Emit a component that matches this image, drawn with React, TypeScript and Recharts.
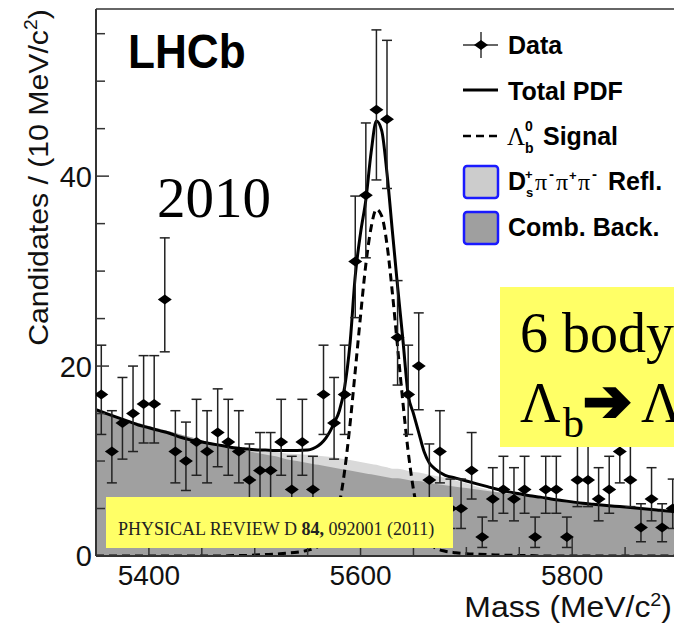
import React from 'react';
import { ComposedChart, XAxis, YAxis, Area, Line, Scatter, ErrorBar, ReferenceLine } from 'recharts';

// ---- measured data (10 MeV bins) ----
const binCenters = [
  5355, 5365, 5375, 5385, 5395, 5405, 5415, 5425, 5435, 5445,
  5455, 5465, 5475, 5485, 5495, 5505, 5515, 5525, 5535, 5545,
  5555, 5565, 5575, 5585, 5595, 5605, 5615, 5625, 5635, 5645,
  5655, 5665, 5675, 5685, 5695, 5705, 5715, 5725, 5735, 5745,
  5755, 5765, 5775, 5785, 5795, 5805, 5815, 5825, 5835, 5845,
  5855, 5865, 5875, 5885, 5895,
];
const counts = [
  17, 11, 14, 15, 16, 16, 27, 11, 10, 12,
  11, 13, 12, 11, 8, 9, 9, 12, 7, 12,
  7, 17, 14, 17, 31, 38, 47, 46, 23, 17,
  20, 8, 11, 5, 5, 9, 2, 6, 7, 6,
  7, 2, 7, 7, 2, 8, 8, 6, 7, 11,
  8, 3, 6, 3, 5,
];
const errLow = [
  4.2, 3.3, 3.8, 4.0, 4.1, 4.1, 5.5, 3.3, 3.1, 3.5,
  3.3, 3.6, 3.5, 3.3, 2.8, 3.0, 3.0, 3.5, 2.5, 3.5,
  2.5, 4.2, 3.8, 4.2, 5.9, 6.6, 7.4, 7.3, 5.0, 4.2,
  4.6, 2.8, 3.3, 2.1, 2.1, 3.0, 1.1, 2.3, 2.5, 2.3,
  2.5, 1.1, 2.5, 2.5, 1.1, 2.8, 2.8, 2.3, 2.5, 3.3,
  2.8, 1.5, 2.3, 1.5, 2.1,
];
const errHigh = [
  5.2, 4.3, 4.8, 5.0, 5.1, 5.1, 6.5, 4.3, 4.1, 4.5,
  4.3, 4.6, 4.5, 4.3, 3.8, 4.0, 4.0, 4.5, 3.5, 4.5,
  3.5, 5.2, 4.8, 5.2, 6.9, 7.6, 8.4, 8.3, 6.0, 5.2,
  5.6, 3.8, 4.3, 3.1, 3.1, 4.0, 2.1, 3.3, 3.5, 3.3,
  3.5, 2.1, 3.5, 3.5, 2.1, 3.8, 3.8, 3.3, 3.5, 4.3,
  3.8, 2.5, 3.3, 2.5, 3.1,
];

// ---- fit curves ----
const curveMass = [
  5350, 5360, 5370, 5380, 5390, 5400, 5410, 5420, 5430, 5440, 5450, 5460, 5470, 5480, 5490, 5500, 5510, 5520, 5530, 5540, 5550,
  5555, 5560, 5565, 5570, 5575, 5580, 5585, 5590, 5595, 5600, 5605, 5610, 5615, 5620, 5625, 5630, 5635, 5640, 5645, 5650, 5655, 5660, 5665, 5670,
  5680, 5690, 5700, 5710, 5720, 5730, 5740, 5750, 5760, 5770, 5780, 5790, 5800, 5810, 5820, 5830, 5840, 5850, 5860, 5870, 5880, 5890, 5900,
];
const combBkg = [
  15.3, 15.0, 14.6, 14.3, 14.0, 13.7, 13.4, 13.1, 12.8, 12.5, 12.2, 11.9, 11.7, 11.4, 11.2, 10.9, 10.7, 10.5, 10.2, 10.0, 9.8,
  9.7, 9.6, 9.5, 9.4, 9.3, 9.2, 9.1, 9.0, 8.9, 8.8, 8.7, 8.6, 8.5, 8.4, 8.3, 8.2, 8.2, 8.1, 8.0, 7.9, 7.9, 7.8, 7.7, 7.6,
  7.45, 7.3, 7.15, 7.0, 6.85, 6.7, 6.55, 6.4, 6.25, 6.1, 6.0, 5.85, 5.7, 5.6, 5.5, 5.35, 5.25, 5.15, 5.05, 4.95, 4.85, 4.75, 4.7,
];
const reflBkg = [
  0, 0, 0, 0, 0, 0, 0, 0, 0, 0, 0, 0, 0, 0.05, 0.1, 0.2, 0.3, 0.45, 0.6, 0.75, 0.85,
  0.9, 0.95, 1.0, 1.05, 1.1, 1.1, 1.1, 1.1, 1.1, 1.1, 1.1, 1.1, 1.1, 1.05, 1.05, 1.0, 1.0, 1.0, 0.95, 0.95, 0.9, 0.9, 0.85, 0.85,
  0.8, 0.65, 0.5, 0.3, 0.15, 0.05, 0, 0, 0, 0, 0, 0, 0, 0, 0, 0, 0, 0, 0, 0, 0, 0, 0,
];
const signalPdf = [
  0, 0, 0, 0, 0, 0, 0, 0, 0, 0, 0, 0, 0, 0.05, 0.05, 0.1, 0.15, 0.2, 0.3, 0.4, 0.6,
  0.75, 1.0, 1.4, 2.0, 3.3, 5.5, 9.0, 13.8, 19.5, 25.3, 30.7, 34.6, 36.5, 35.8, 32.8, 27.8, 22.0, 16.2, 11.0, 7.0, 4.2, 2.4, 1.4, 0.9,
  0.5, 0.35, 0.25, 0.2, 0.15, 0.1, 0.08, 0.05, 0.05, 0, 0, 0, 0, 0, 0, 0, 0, 0, 0, 0, 0, 0, 0,
];
const totalPdf = [
  15.4, 15.0, 14.6, 14.2, 13.8, 13.5, 13.2, 12.9, 12.5, 12.2, 12.0, 11.8, 11.6, 11.4, 11.3, 11.2, 11.15, 11.1, 11.1, 11.1, 11.15,
  11.3, 11.6, 12.1, 12.9, 14.0, 15.3, 17.8, 22.3, 29.5, 34.0, 37.5, 42.5, 45.8, 44.8, 40.3, 34.3, 28.4, 22.8, 17.0, 15.0, 13.0, 11.0, 9.8, 9.2,
  8.5, 8.2, 7.9, 7.6, 7.3, 7.0, 6.75, 6.55, 6.35, 6.2, 6.0, 5.85, 5.7, 5.55, 5.45, 5.35, 5.25, 5.15, 5.05, 4.95, 4.85, 4.75, 4.7,
];

// ---- axes ----
const xTicks = [5400, 5450, 5500, 5550, 5600, 5650, 5700, 5750, 5800, 5850];
const xLabels = [5400, 5600, 5800];
const yTicks = [0, 5, 10, 15, 20, 25, 30, 35, 40, 45, 50, 55];
const yLabels = [0, 20, 40];
const xDomain = [5350, 5900];
const yDomain = [0, 57.6];

const SANS = 'Liberation Sans, Arial, Helvetica, sans-serif';
const SERIF = 'Liberation Serif, Times New Roman, serif';

const curveRows = curveMass.map((m, i) => ({
  m,
  comb: combBkg[i],
  bkg: combBkg[i] + reflBkg[i],
  sig: signalPdf[i],
  total: totalPdf[i],
}));
const points = binCenters.map((m, i) => ({ m, n: counts[i], err: [errLow[i], errHigh[i]] }));

const XTick = (props: any) => {
  const { x, y, payload } = props;
  const major = xLabels.includes(payload.value);
  const len = major ? 18 : 9;
  return (
    <g>
      <line x1={x} x2={x} y1={y} y2={y - len} stroke="#333" strokeWidth={1.5} />
      {major && (
        <text x={x} y={y + 28.5} textAnchor="middle" fontSize={28} fontFamily={SANS} fill="#111">
          {payload.value}
        </text>
      )}
    </g>
  );
};

const YTick = (props: any) => {
  const { x, y, payload } = props;
  const major = yLabels.includes(payload.value);
  const len = major ? 13 : 9;
  return (
    <g>
      <line x1={x} x2={x + len} y1={y} y2={y} stroke="#333" strokeWidth={1.5} />
      {major && (
        <text x={x - 4} y={y} dy="0.36em" textAnchor="end" fontSize={29} fontFamily={SANS} fill="#111">
          {payload.value}
        </text>
      )}
    </g>
  );
};

const Diamond = (props: any) => {
  const { cx, cy } = props;
  if (cx == null || cy == null) return null;
  return <polygon points={`${cx - 7},${cy} ${cx},${cy - 5} ${cx + 7},${cy} ${cx},${cy + 5}`} fill="#000" />;
};

const Overlay = () => (
  <svg width={674} height={627} style={{ position: 'absolute', left: 0, top: 0, pointerEvents: 'none' }}>
    {/* LHCb label */}
    <text transform="translate(128,68) scale(0.92,1)" fontSize={48} fontWeight="bold" fontFamily={SANS} fill="#000">
      LHCb
    </text>
    <text x={157} y={217} fontSize={57} fontFamily={SERIF} fill="#000">2010</text>

    {/* legend */}
    <line x1={463} x2={498} y1={45} y2={45} stroke="#333" strokeWidth={1.5} />
    <line x1={481} x2={481} y1={32} y2={58} stroke="#333" strokeWidth={1.5} />
    <polygon points="474,45 481,40 488,45 481,50" fill="#000" />
    <text x={508} y={54} fontSize={25} fontWeight="bold" fontFamily={SANS}>Data</text>

    <line x1={463} x2={498} y1={90} y2={90} stroke="#000" strokeWidth={3} />
    <text x={508} y={100} fontSize={25} fontWeight="bold" fontFamily={SANS}>Total PDF</text>

    <line x1={463} x2={498} y1={136} y2={136} stroke="#000" strokeWidth={2.5} strokeDasharray="8 5" />
    <text x={507} y={145} fontSize={25} fontFamily={SERIF}>Λ</text>
    <text x={525} y={131} fontSize={14} fontWeight="bold" fontFamily={SANS}>0</text>
    <text x={525} y={153} fontSize={14} fontWeight="bold" fontFamily={SANS}>b</text>
    <text x={543} y={145} fontSize={25} fontWeight="bold" fontFamily={SANS}>Signal</text>

    <rect x={464} y={166} width={34} height={32} rx={3} fill="#cccccc" stroke="#1a1aff" strokeWidth={2.5} />
    <text x={508} y={190} fontSize={25} fontWeight="bold" fontFamily={SANS}>D</text>
    <text x={525} y={179} fontSize={13} fontWeight="bold" fontFamily={SANS}>+</text>
    <text x={526} y={197} fontSize={13} fontWeight="bold" fontFamily={SANS}>s</text>
    <text x={535} y={190} fontSize={24} fontFamily={SERIF}>π</text>
    <text x={549} y={179} fontSize={15} fontWeight="bold" fontFamily={SANS}>-</text>
    <text x={556} y={190} fontSize={24} fontFamily={SERIF}>π</text>
    <text x={569} y={180} fontSize={13} fontWeight="bold" fontFamily={SANS}>+</text>
    <text x={578} y={190} fontSize={24} fontFamily={SERIF}>π</text>
    <text x={592} y={179} fontSize={15} fontWeight="bold" fontFamily={SANS}>-</text>
    <text x={608} y={190} fontSize={25} fontWeight="bold" fontFamily={SANS}>Refl.</text>

    <rect x={464} y={212} width={34} height={32} rx={3} fill="#9f9f9f" stroke="#1a1aff" strokeWidth={2.5} />
    <text x={508} y={236} fontSize={25} fontWeight="bold" fontFamily={SANS}>Comb. Back.</text>

    {/* 6 body box */}
    <rect x={500} y={287} width={180} height={160} fill="#ffff66" />
    <text x={520} y={352} fontSize={56} fontFamily={SERIF} fill="#000">6 body</text>
    <text x={520} y={422} fontSize={56} fontFamily={SERIF} fill="#000">Λ</text>
    <text x={563} y={437} fontSize={42} fontFamily={SERIF} fill="#000">b</text>
    <text x={583} y={421} fontSize={58} fontFamily="DejaVu Sans" fill="#000" stroke="#000" strokeWidth={3}>➔</text>
    <text x={641} y={422} fontSize={56} fontFamily={SERIF} fill="#000">Λ</text>

    {/* PRD box */}
    <rect x={106} y={497} width={347} height={51} fill="#ffff66" />
    <text x={118} y={535} fontSize={18} fontFamily={SERIF} fill="#222">
      PHYSICAL REVIEW D <tspan fontWeight="bold">84,</tspan> 092001 (2011)
    </text>

    {/* axis titles */}
    <text transform="translate(672,617) scale(1.1,1)" textAnchor="end" fontSize={29} fontFamily={SANS} fill="#111">
      Mass (MeV/c<tspan fontSize={18} dy={-11}>2</tspan><tspan dy={11}>)</tspan>
    </text>
    <text transform="translate(48,177.5) rotate(-90) scale(1.08,1)" textAnchor="middle" fontSize={28} fontFamily={SANS} fill="#111">
      Candidates / (10 MeV/c<tspan fontSize={18} dy={-11}>2</tspan><tspan dy={11}>)</tspan>
    </text>
  </svg>
);

export default function App() {
  return (
    <div style={{ position: 'absolute', left: 0, top: 0, width: 674, height: 627, overflow: 'hidden', background: '#fff' }}>
      <ComposedChart width={680} height={627} data={curveRows} margin={{ top: 9, right: 2, left: 0, bottom: 0 }}>
        <XAxis
          type="number"
          dataKey="m"
          domain={xDomain}
          allowDataOverflow
          ticks={xTicks}
          interval={0}
          tickSize={0}
          tickMargin={0}
          tickLine={false}
          tick={<XTick />}
          axisLine={{ stroke: '#333', strokeWidth: 2 }}
          height={71}
        />
        <YAxis
          type="number"
          domain={yDomain}
          allowDataOverflow
          ticks={yTicks}
          interval={0}
          tickSize={0}
          tickMargin={0}
          tickLine={false}
          tick={<YTick />}
          axisLine={{ stroke: '#333', strokeWidth: 2 }}
          width={96}
        />
        <Area type="monotone" dataKey="bkg" stroke="none" fill="#d9d9d9" fillOpacity={1} isAnimationActive={false} />
        <Area type="monotone" dataKey="comb" stroke="none" fill="#a0a0a0" fillOpacity={1} isAnimationActive={false} />
        <Line type="monotone" dataKey="sig" stroke="#000" strokeWidth={3} strokeDasharray="8 5" dot={false} isAnimationActive={false} />
        <Line type="monotone" dataKey="total" stroke="#000" strokeWidth={3} dot={false} isAnimationActive={false} />
        <Scatter data={points} dataKey="n" shape={<Diamond />} isAnimationActive={false}>
          <ErrorBar dataKey="err" direction="y" width={5} stroke="#222" strokeWidth={1.5} />
        </Scatter>
        <ReferenceLine y={57.6} stroke="#666" strokeWidth={2} ifOverflow="visible" />
      </ComposedChart>
      <Overlay />
    </div>
  );
}
